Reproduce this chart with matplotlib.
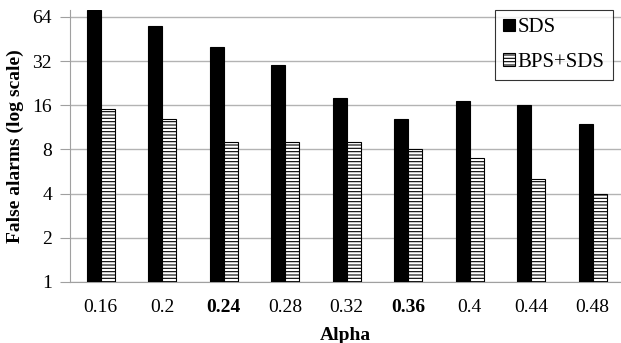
import numpy as np
import matplotlib.pyplot as plt
from matplotlib.ticker import FixedLocator, NullLocator

# Values
alpha = ['0.16', '0.2', '0.24', '0.28', '0.32', '0.36', '0.4', '0.44', '0.48']
sds = [71, 56, 40, 30, 18, 13, 17, 16, 12]
bps_sds = [15, 13, 9, 9, 9, 8, 7, 5, 4]
bold_labels = ['0.24', '0.36']
y_ticks = [1, 2, 4, 8, 16, 32, 64]

plt.rcParams['font.family'] = ['Liberation Serif', 'DejaVu Serif']
plt.rcParams['hatch.linewidth'] = 0.8

fig = plt.figure(figsize=(6.21, 3.43), dpi=100)
ax = fig.add_axes([70 / 621, 1 - 282 / 343, 551 / 621, 272 / 343])

x = np.arange(len(alpha))
w = 0.225
ax.bar(x - w / 2, sds, width=w, color='black', edgecolor='black',
       linewidth=0.8, label='SDS', zorder=3)
ax.bar(x + w / 2, bps_sds, width=w, color='white', edgecolor='black',
       hatch='-----', linewidth=0.8, label='BPS+SDS', zorder=3)

ax.set_yscale('log', base=2)
ax.set_ylim(1, 64 * 2 ** (7 / 44.2))
ax.yaxis.set_major_locator(FixedLocator(y_ticks))
ax.yaxis.set_minor_locator(NullLocator())
ax.set_yticklabels([str(t) for t in y_ticks])
ax.set_xlim(-0.5, 8.46)
ax.set_xticks(x)
ax.set_xticklabels(alpha)
for lab in ax.get_xticklabels():
    if lab.get_text() in bold_labels:
        lab.set_fontweight('bold')

ax.grid(axis='y', color='#b3b3b3', linewidth=1, zorder=0)
for s in ['top', 'right']:
    ax.spines[s].set_visible(False)
ax.spines['left'].set_color('#a0a0a0')
ax.spines['bottom'].set_color('#a0a0a0')
ax.tick_params(axis='y', length=7, color='#a0a0a0', labelsize=14, pad=6)
ax.tick_params(axis='x', length=0, labelsize=14, pad=12)

ax.set_xlabel('Alpha', fontsize=14, fontweight='bold', labelpad=8)
ax.set_ylabel('False alarms (log scale)', fontsize=14, fontweight='bold', labelpad=6)

leg = ax.legend(loc='upper right', bbox_to_anchor=(543 / 551, 1.0), fontsize=15,
                frameon=True, fancybox=False, edgecolor='black',
                handlelength=0.55, handleheight=0.55, handletextpad=0.15,
                labelspacing=0.75, borderpad=0.4, borderaxespad=0)
leg.get_frame().set_linewidth(0.8)

fig.savefig('out.png', dpi=100)
